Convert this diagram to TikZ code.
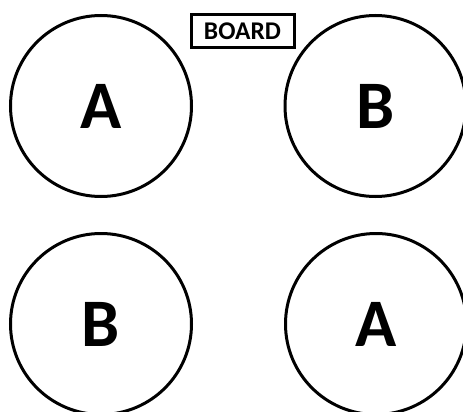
\documentclass[tikz,border=0pt]{standalone}
\usepackage{fontspec}
\setmainfont{Carlito}
\begin{document}
\begin{tikzpicture}[x=1pt,y=-1pt,
  seat/.style={circle,draw=black,line width=3pt,minimum size=181pt,inner sep=0pt,
    font=\bfseries\fontsize{68}{68}\selectfont},
  boardbox/.style={draw=black,line width=3pt,minimum width=103pt,minimum height=33pt,inner sep=0pt,
    font=\bfseries\fontsize{25.5}{25.5}\selectfont}]
\useasboundingbox (0,0) rectangle (463,412);
\clip (0,0) rectangle (463,412);
\node[boardbox] (board) at (242.5,31) {BOARD};
\node[seat] (tl) at (101,106) {\raisebox{-1.5pt}{A}};
\node[seat] (tr) at (375.5,106) {\raisebox{-1.5pt}{B}};
\node[seat] (bl) at (101,324) {\raisebox{-1pt}{B}};
\node[seat] (br) at (376,324) {\raisebox{-1pt}{A}};
\end{tikzpicture}
\end{document}
